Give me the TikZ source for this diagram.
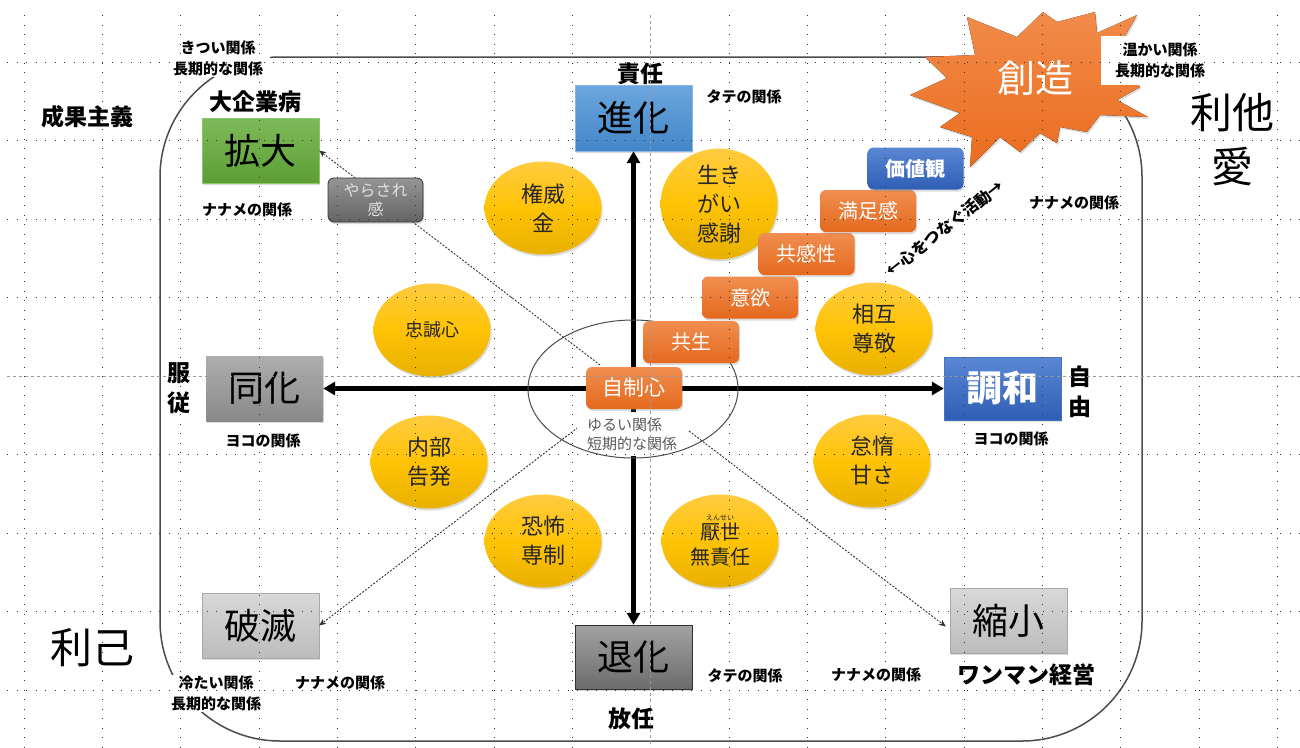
\documentclass[tikz,border=0pt]{standalone}
\usepackage{fontspec}
\setmainfont{Noto Sans CJK JP}
\usetikzlibrary{shapes.geometric,arrows.meta,shadows,calc}
\newcommand\myfs[2]{\fontsize{#1}{#2}\selectfont}
\definecolor{blueAT}{HTML}{6CA6DE}\definecolor{blueAB}{HTML}{4286C9}\definecolor{blueAD}{HTML}{8DB6E3}
\definecolor{blueBT}{HTML}{5A88D4}\definecolor{blueBB}{HTML}{2E5DB5}\definecolor{blueBD}{HTML}{4A72BE}
\definecolor{greenT}{HTML}{7EBA5A}\definecolor{greenB}{HTML}{5C9E34}\definecolor{greenD}{HTML}{8CC46A}
\definecolor{grayAT}{HTML}{AEAEAE}\definecolor{grayAB}{HTML}{898989}
\definecolor{grayBT}{HTML}{A2A2A2}\definecolor{grayBB}{HTML}{6C6C6C}
\definecolor{grayCT}{HTML}{D8D8D8}\definecolor{grayCB}{HTML}{BCBCBC}\definecolor{grayCD}{HTML}{A8A8A8}
\definecolor{grayDT}{HTML}{959595}\definecolor{grayDB}{HTML}{646464}
\definecolor{orT}{HTML}{F18E50}\definecolor{orB}{HTML}{E4691D}
\definecolor{starT}{HTML}{F28B4A}\definecolor{starB}{HTML}{EA6C1E}
\definecolor{yelT}{HTML}{FFCB40}\definecolor{yelM}{HTML}{FFC305}\definecolor{yelB}{HTML}{E8B000}
\begin{document}
\begin{tikzpicture}[x=1pt,y=-1pt,
  shd/.style={drop shadow={opacity=0.28, shadow xshift=1.2pt, shadow yshift=-2pt}},
  bigbox/.style={rectangle, minimum width=117pt, minimum height=65pt, inner sep=0pt, font=\myfs{36}{40}, shd},
  ell/.style={ellipse, minimum width=117pt, minimum height=93pt, inner sep=0pt, align=center,
    top color=yelT, bottom color=yelB, middle color=yelM, font=\myfs{22}{29}, text=black!85, shd},
  stepbox/.style={rectangle, rounded corners=6pt, minimum width=96pt, minimum height=42pt, inner sep=0pt,
    top color=orT, bottom color=orB, text=white, font=\myfs{20}{22}, shd},
  lbl/.style={font=\bfseries\myfs{15}{21}, align=center, inner sep=1pt},
  biglbl/.style={font=\bfseries\myfs{23}{30}, align=center, inner sep=1pt},
  hugelbl/.style={font=\myfs{42}{54}, align=center, inner sep=1pt},
  axis/.style={line width=4.5pt, {Triangle[length=12pt,width=13pt]}-{Triangle[length=12pt,width=13pt]}},
  diag/.style={draw=black!80, line width=0.9pt, dash pattern=on 2pt off 1.5pt, -{Stealth[length=7pt,width=6pt]}},
  griddots/.style={draw=black!80, line width=0.9pt, dash pattern=on 0.9pt off 8.6pt},
  middash/.style={draw=black!40, line width=0.8pt, dash pattern=on 3pt off 3pt}]
\useasboundingbox (0,0) rectangle (1300,747);
\fill[white] (0,0) rectangle (1300,747);

% outer frame
\draw[black!70, line width=1.5pt, rounded corners=120pt] (160,57) rectangle (1142,741);

% labels with white background over the frame
\node[lbl, fill=white, inner xsep=7pt] (kitsui) at (218,58.5) {きつい関係\\長期的な関係};
\node[lbl, fill=white, inner xsep=6pt] (tsumetai) at (216,693.5) {冷たい関係\\長期的な関係};

% other labels
\node[biglbl] (seika) at (87,117) {成果主義};
\node[biglbl] (daikigyou) at (255,102) {大企業病};
\node[lbl] (naname1) at (247,210) {ナナメの関係};
\node[biglbl] (sekinin) at (640,74) {責任};
\node[lbl] (tate1) at (744,97) {タテの関係};
\node[hugelbl] (rita) at (1232,140) {利他\\愛};
\node[lbl] (naname2) at (1074,203) {ナナメの関係};
\node[biglbl] (fukujuu) at (179,388) {服\\従};
\node[lbl] (yoko1) at (263,441) {ヨコの関係};
\node[biglbl] (jiyuu) at (1080,392) {自\\由};
\node[lbl] (yoko2) at (1011,439) {ヨコの関係};
\node[hugelbl] (riko) at (92,648) {利己};
\node[lbl] (naname3) at (340,683) {ナナメの関係};
\node[biglbl] (hounin) at (631,719) {放任};
\node[lbl] (tate2) at (745,676) {タテの関係};
\node[lbl] (naname4) at (876,675) {ナナメの関係};
\node[biglbl] (wanman) at (1026,675) {ワンマン経営};

% main boxes
\node[bigbox, top color=blueAT, bottom color=blueAB, draw=blueAD, minimum height=66pt] (shinka) at (633.5,118) {進化};
\node[bigbox, top color=grayBT, bottom color=grayBB, draw=black!80, minimum height=64pt] (taika) at (633.5,657) {退化};
\node[bigbox, top color=grayAT, bottom color=grayAB] (douka) at (264.5,388.5) {同化};
\node[bigbox, top color=blueBT, bottom color=blueBB, draw=blueBD, minimum height=63pt, text=white, font=\bfseries\myfs{36}{40}] (chouwa) at (1002.5,388.5) {調和};
\node[bigbox, top color=greenT, bottom color=greenB, draw=greenD] (kakudai) at (260.5,150.5) {拡大};
\node[bigbox, top color=grayCT, bottom color=grayCB, draw=grayCD] (hametsu) at (260.5,625.5) {破滅};
\node[bigbox, top color=grayCT, bottom color=grayCB, draw=grayCD] (shukushou) at (1008.5,620.5) {縮小};

% dashed diagonal arrows
\coordinate (d1) at (600,365);
\coordinate (d2) at (589,419);
\coordinate (d3) at (689,431);
\draw[diag] (d1) -- (kakudai.east);
\draw[diag] (d2) -- (hametsu.east);
\draw[diag] (d3) -- ($(shukushou.west)+(-4,6)$);

% axes
\draw[axis] (shinka.south) -- (taika.north);
\draw[axis] (douka.east) -- (chouwa.west);

% centre text (white background) and ellipse
\node[align=left, text=black!65, font=\myfs{15}{19}, fill=white, inner xsep=10pt, inner ysep=6pt] (yurui) at (632,434) {ゆるい関係\\短期的な関係};
\node[ellipse, draw=black!70, line width=1pt, minimum width=210pt, minimum height=138pt] (center) at (633,389) {};

% yellow ellipses
\node[ell] (kenni) at (543,208) {権威\\金};
\node[ell] (ikigai) at (719,204) {生き\\がい\\感謝};
\node[ell, font=\myfs{18}{22}] (chuusei) at (432,330) {忠誠心};
\node[ell] (naibu) at (429,462) {内部\\告発};
\node[ell] (sougo) at (874,329) {相互\\尊敬};
\node[ell] (taida) at (872,461) {怠惰\\甘さ};
\node[ell] (kyoufu) at (543,541) {恐怖\\専制};
\node[ell, font=\myfs{20}{25}] (ensei) at (720,541) {{\myfs{7}{7}えんせい}\\[-6pt]厭世\\無責任};

% staircase boxes
\node[stepbox, font=\myfs{21}{22}] (jisei) at (634,388) {自制心};
\node[stepbox] (kyousei) at (691,342) {共生};
\node[stepbox] (iyoku) at (750,297.5) {意欲};
\node[stepbox] (kyoukan) at (806.5,254) {共感性};
\node[stepbox] (manzoku) at (868,211) {満足感};
\node[stepbox, top color=blueBT, bottom color=blueBB, font=\bfseries\myfs{20}{22}] (kachikan) at (915.5,168.5) {価値観};
\node[rotate=38, font=\bfseries\myfs{16}{17}, inner sep=0pt] (kokoro) at (945,228) {←心をつなぐ活動→};

% やらされ感
\node[rectangle, rounded corners=6pt, draw=black!80, line width=0.8pt, minimum width=95pt, minimum height=44pt,
  inner sep=0pt, top color=grayDT, bottom color=grayDB, text=black!12, align=center, font=\myfs{16}{19}, shd] (yarasare) at (375.5,200) {やらされ\\感};

% star
\fill[top color=starT, bottom color=starB, shd] (967,17) -- (1017,37) -- (1043,12) -- (1057,22) -- (1095,12) -- (1097,33)
  -- (1137,15) -- (1117,50) -- (1140,87) -- (1117,100) -- (1148,117) -- (1100,115) -- (1087,132) -- (1060,127)
  -- (1057,143) -- (1040,133) -- (1020,152) -- (1000,137) -- (970,167) -- (972,137) -- (940,127) -- (960,113)
  -- (910,95) -- (947,78) -- (925,57) -- (975,55) -- cycle;
\node[text=white, font=\myfs{38}{40}] (souzou) at (1035,78) {創造};
\node[lbl, fill=white, minimum width=118pt, minimum height=49pt] (atatakai) at (1160,60.5) {温かい関係\\長期的な関係};

% grid overlay
\foreach \gx in {24,102.35,180.7,259.05,337.4,415.75,494.1,572.45,729.15,807.5,885.85,964.2,1042.55,1120.9,1199.25,1277.6}
  \draw[griddots] (\gx,15) -- (\gx,747);
\foreach \gy in {62,140.5,219,297.5,454.5,533,611.5,690}
  \draw[griddots] (7,\gy) -- (1300,\gy);
\draw[middash] (650.8,15) -- (650.8,747);
\draw[middash] (7,376) -- (1300,376);
\end{tikzpicture}
\end{document}
